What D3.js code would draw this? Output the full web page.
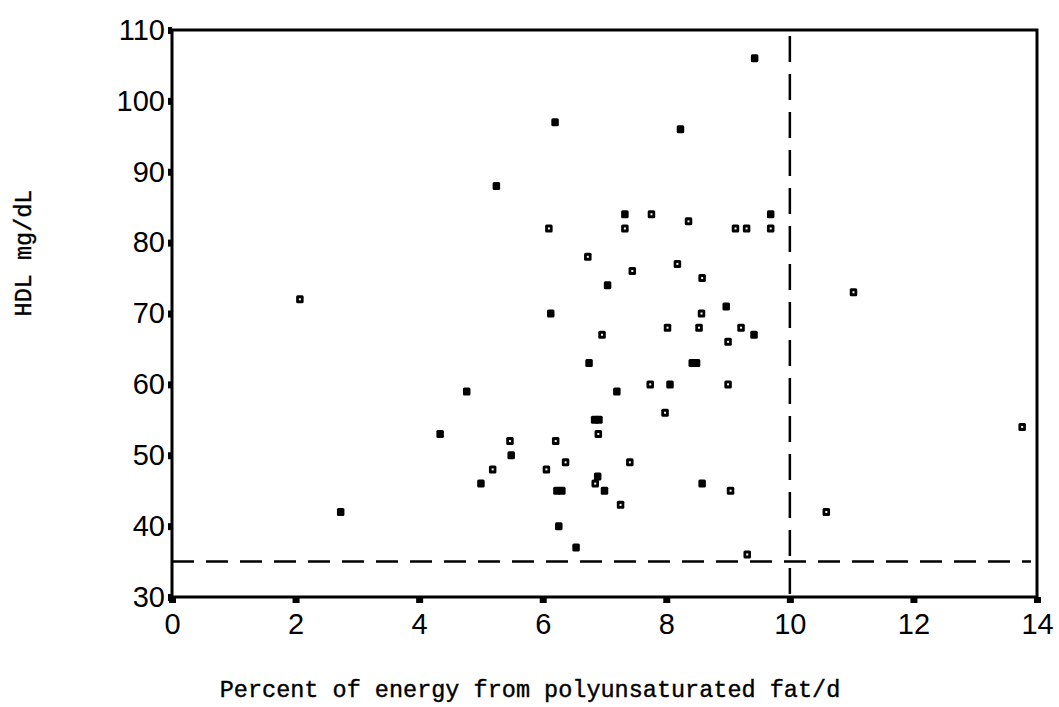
<!DOCTYPE html>
<html>
<head>
<meta charset="utf-8">
<script src="https://cdn.jsdelivr.net/npm/d3@7/dist/d3.min.js"></script>
<style>
  html, body { margin: 0; padding: 0; background: #fff; }
  svg { display: block; }
</style>
</head>
<body>
<svg id="chart" width="1059" height="707"></svg>
<script>
// ---- data ----
const filledX = [2.73, 4.34, 4.77, 5.00, 5.25, 5.49, 6.13, 6.20, 6.23, 6.31, 6.26, 6.54, 6.75, 6.84, 6.91, 6.89, 7.00, 7.05, 7.20, 7.33, 8.06, 8.23, 8.42, 8.49, 8.58, 8.97, 9.42, 9.43, 9.69];
const filledY = [42, 53, 59, 46, 88, 50, 70, 97, 45, 45, 40, 37, 63, 55, 55, 47, 45, 74, 59, 84, 60, 96, 63, 63, 46, 71, 67, 106, 84];

const dottedX = [2.07, 5.19, 5.47, 6.06, 6.10, 6.21, 6.37, 6.73, 6.85, 6.90, 6.96, 7.26, 7.33, 7.41, 7.45, 7.74, 7.76, 7.98, 8.02, 8.18, 8.36, 8.53, 8.57, 8.58, 9.00, 9.00, 9.04, 9.12, 9.21, 9.30, 9.31, 9.69, 10.59, 11.03, 13.76];
const dottedY = [72, 48, 52, 48, 82, 52, 49, 78, 46, 53, 67, 43, 82, 49, 76, 60, 84, 56, 68, 77, 83, 68, 70, 75, 60, 66, 45, 82, 68, 82, 36, 82, 42, 73, 54];

const xTicks = [0, 2, 4, 6, 8, 10, 12, 14];
const yTicks = [30, 40, 50, 60, 70, 80, 90, 100, 110];
const xDomain = [0, 14];
const yDomain = [30, 110];
const refX = 10;   // vertical dashed reference
const refY = 35;   // horizontal dashed reference
const xTitle = "Percent of energy from polyunsaturated fat/d";
const yTitle = "HDL mg/dL";

// ---- layout ----
const svg = d3.select("#chart");
const L = 172, R = 1037, T = 30, B = 597;
const x = d3.scaleLinear().domain(xDomain).range([L, R]);
const y = d3.scaleLinear().domain(yDomain).range([B, T]);

// axes
const gx = svg.append("g").attr("transform", `translate(0,${B})`)
  .call(d3.axisBottom(x).tickValues(xTicks).tickSize(6).tickPadding(10).tickFormat(d3.format("d")));
const gy = svg.append("g").attr("transform", `translate(${L},0)`)
  .call(d3.axisLeft(y).tickValues(yTicks).tickSize(4).tickPadding(3).tickFormat(d3.format("d")));

[gx, gy].forEach(g => {
  g.select(".domain").remove();
  g.selectAll("text")
    .attr("font-family", "'Liberation Sans', Arial, sans-serif")
    .attr("font-size", 29)
    .attr("fill", "#000");
});
gx.selectAll(".tick line").attr("stroke", "#000").attr("stroke-width", 7);
gy.selectAll(".tick line").attr("stroke", "#000").attr("stroke-width", 7);

// frame
svg.append("rect")
  .attr("x", x(xDomain[0])).attr("y", y(yDomain[1]))
  .attr("width", x(xDomain[1]) - x(xDomain[0]))
  .attr("height", y(yDomain[0]) - y(yDomain[1]))
  .attr("fill", "none").attr("stroke", "#000").attr("stroke-width", 3);

// reference lines
svg.append("line")
  .attr("x1", x(refX)).attr("x2", x(refX))
  .attr("y1", y(yDomain[1]) + 6).attr("y2", y(yDomain[0]))
  .attr("stroke", "#000").attr("stroke-width", 2.5)
  .attr("stroke-dasharray", "26,12");
svg.append("line")
  .attr("x1", x(xDomain[0])).attr("x2", x(xDomain[1]) - 6)
  .attr("y1", y(refY)).attr("y2", y(refY))
  .attr("stroke", "#000").attr("stroke-width", 2.5)
  .attr("stroke-dasharray", "22,12");

// points
const filled = filledX.map((v, i) => ({x: v, y: filledY[i]}));
const dotted = dottedX.map((v, i) => ({x: v, y: dottedY[i]}));
const mw = 7.5, mh = 8;

svg.append("g").selectAll("rect").data(filled).join("rect")
  .attr("x", d => x(d.x) - mw / 2).attr("y", d => y(d.y) - mh / 2)
  .attr("width", mw).attr("height", mh).attr("rx", 1.5)
  .attr("fill", "#000");

const gd = svg.append("g");
gd.selectAll("rect.o").data(dotted).join("rect").attr("class", "o")
  .attr("x", d => x(d.x) - mw / 2).attr("y", d => y(d.y) - mh / 2)
  .attr("width", mw).attr("height", mh).attr("rx", 1.5)
  .attr("fill", "#000");
gd.selectAll("rect.i").data(dotted).join("rect").attr("class", "i")
  .attr("x", d => x(d.x) - 1).attr("y", d => y(d.y) - 1)
  .attr("width", 2).attr("height", 2)
  .attr("fill", "#fff");

// titles
svg.append("text")
  .attr("x", 530).attr("y", 697)
  .attr("text-anchor", "middle")
  .attr("font-family", "'Liberation Mono', 'DejaVu Sans Mono', monospace")
  .attr("font-size", 23.5)
  .attr("fill", "#000")
  .attr("stroke", "#000").attr("stroke-width", 0.4)
  .text(xTitle);

svg.append("text")
  .attr("transform", "translate(31,253) rotate(-90)")
  .attr("text-anchor", "middle")
  .attr("font-family", "'Liberation Mono', 'DejaVu Sans Mono', monospace")
  .attr("font-size", 23.5)
  .attr("fill", "#000")
  .attr("stroke", "#000").attr("stroke-width", 0.4)
  .text(yTitle);
</script>
</body>
</html>
